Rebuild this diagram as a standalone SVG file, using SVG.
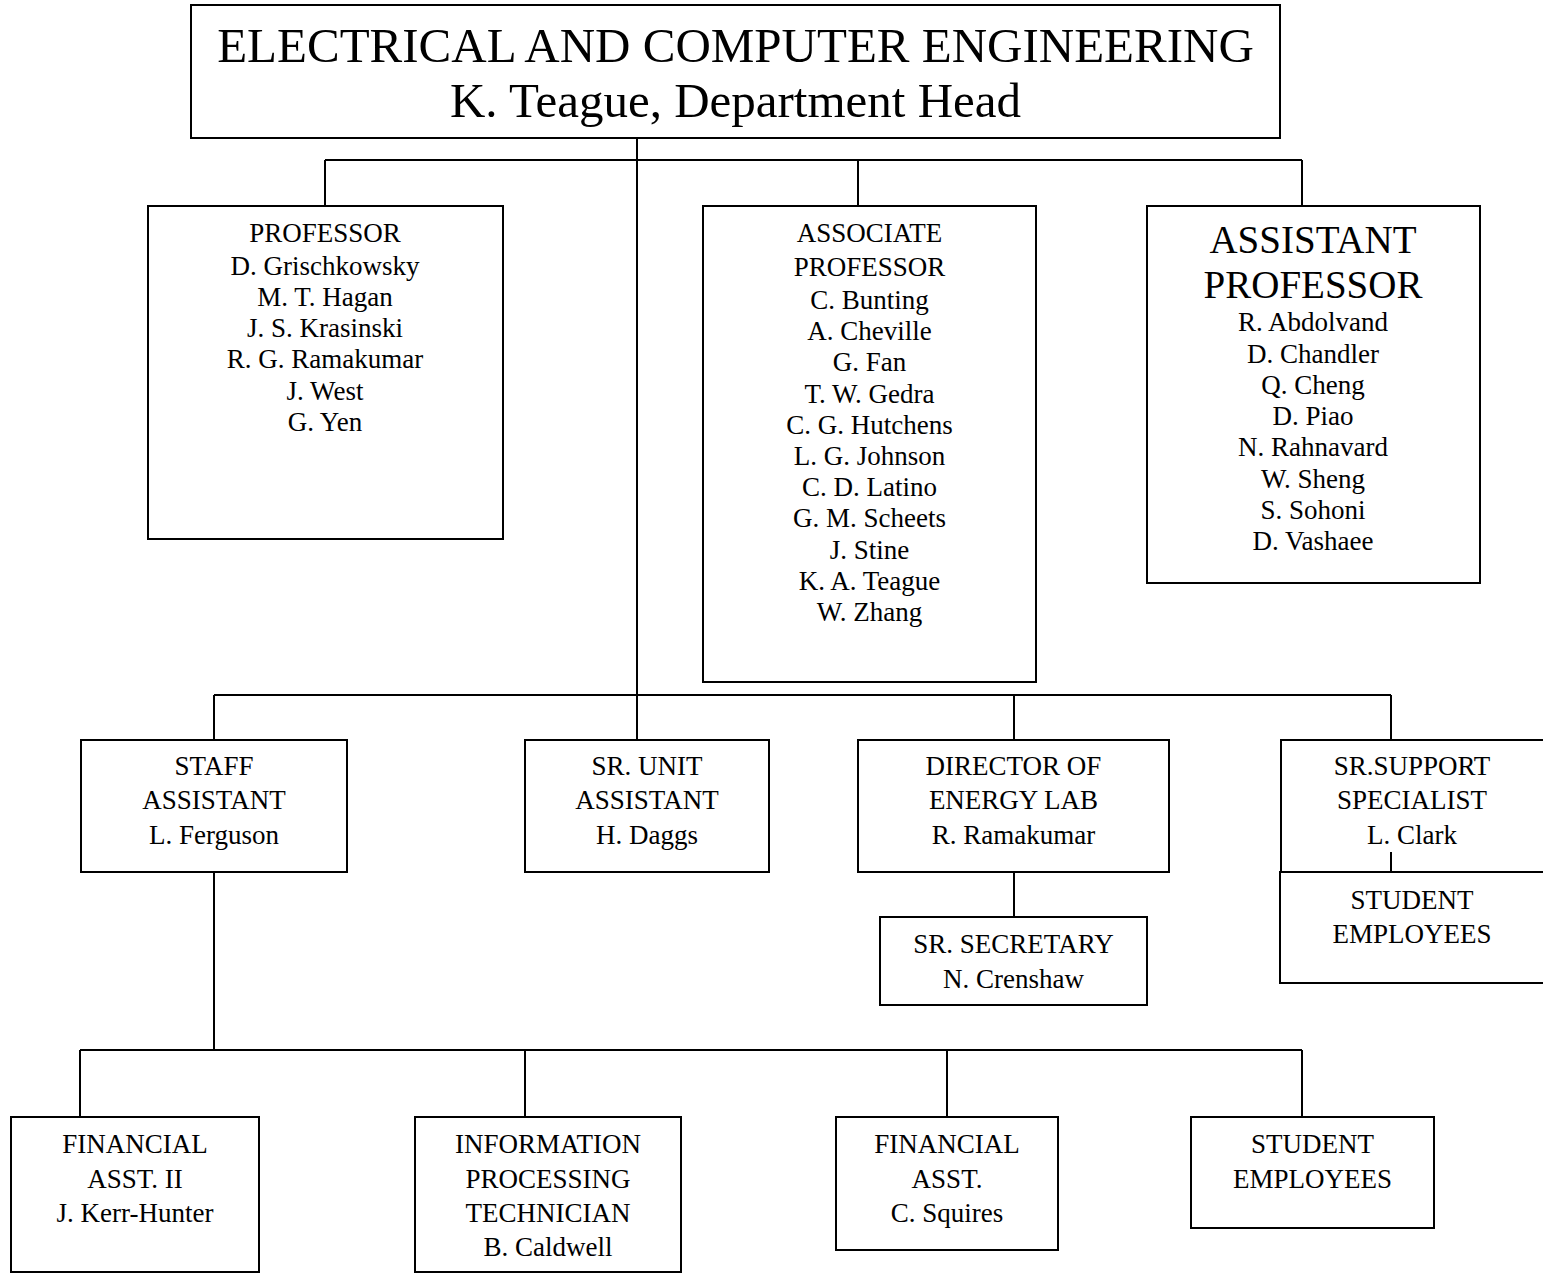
<svg xmlns="http://www.w3.org/2000/svg" width="1543" height="1273" viewBox="0 0 1543 1273">
<style>
rect{fill:#fff;stroke:#000;stroke-width:2}
.c line,.c path{stroke:#000;stroke-width:2;fill:none}
text{font-family:"Liberation Serif","Times New Roman",serif;fill:#000;text-anchor:middle;font-size:27px}
.big{font-size:49px}
.mid{font-size:39px}
</style>
<rect width="1543" height="1273" style="fill:#fff;stroke:none"/>
<g class="c" id="connectors">
<line x1="637" y1="138" x2="637" y2="740"/>
<line x1="325" y1="160" x2="1302" y2="160"/>
<line x1="325" y1="160" x2="325" y2="206"/>
<line x1="858" y1="160" x2="858" y2="206"/>
<line x1="1302" y1="160" x2="1302" y2="206"/>
<line x1="214" y1="695" x2="1391" y2="695"/>
<line x1="214" y1="695" x2="214" y2="740"/>
<line x1="1014" y1="695" x2="1014" y2="740"/>
<line x1="1391" y1="695" x2="1391" y2="740"/>
<line x1="1014" y1="872" x2="1014" y2="917"/>
<line x1="1391" y1="852" x2="1391" y2="872"/>
<line x1="214" y1="872" x2="214" y2="1050"/>
<line x1="80" y1="1050" x2="1302" y2="1050"/>
<line x1="80" y1="1050" x2="80" y2="1117"/>
<line x1="525" y1="1050" x2="525" y2="1117"/>
<line x1="947" y1="1050" x2="947" y2="1117"/>
<line x1="1302" y1="1050" x2="1302" y2="1117"/>
</g>
<g id="head">
<rect x="191" y="5" width="1089" height="133"/>
<text class="big" x="735.5" y="62">ELECTRICAL AND COMPUTER ENGINEERING</text>
<text class="big" x="735.5" y="117">K. Teague, Department Head</text>
</g>
<g id="professor">
<rect x="148" y="206" width="355" height="333"/>
<text x="325" y="242">PROFESSOR</text>
<text x="325" y="275">D. Grischkowsky</text>
<text x="325" y="306">M. T. Hagan</text>
<text x="325" y="337">J. S. Krasinski</text>
<text x="325" y="368">R. G. Ramakumar</text>
<text x="325" y="400">J. West</text>
<text x="325" y="431">G. Yen</text>
</g>
<g id="associate">
<rect x="703" y="206" width="333" height="476"/>
<text x="869.5" y="242">ASSOCIATE</text>
<text x="869.5" y="276">PROFESSOR</text>
<text x="869.5" y="309">C. Bunting</text>
<text x="869.5" y="340">A. Cheville</text>
<text x="869.5" y="371">G. Fan</text>
<text x="869.5" y="403">T. W. Gedra</text>
<text x="869.5" y="434">C. G. Hutchens</text>
<text x="869.5" y="465">L. G. Johnson</text>
<text x="869.5" y="496">C. D. Latino</text>
<text x="869.5" y="527">G. M. Scheets</text>
<text x="869.5" y="559">J. Stine</text>
<text x="869.5" y="590">K. A. Teague</text>
<text x="869.5" y="621">W. Zhang</text>
</g>
<g id="assistant">
<rect x="1147" y="206" width="333" height="377"/>
<text class="mid" x="1313" y="253">ASSISTANT</text>
<text class="mid" x="1313" y="298">PROFESSOR</text>
<text x="1313" y="331">R. Abdolvand</text>
<text x="1313" y="363">D. Chandler</text>
<text x="1313" y="394">Q. Cheng</text>
<text x="1313" y="425">D. Piao</text>
<text x="1313" y="456">N. Rahnavard</text>
<text x="1313" y="488">W. Sheng</text>
<text x="1313" y="519">S. Sohoni</text>
<text x="1313" y="550">D. Vashaee</text>
</g>
<g id="staff">
<rect x="81" y="740" width="266" height="132"/>
<text x="214" y="775">STAFF</text>
<text x="214" y="809">ASSISTANT</text>
<text x="214" y="844">L. Ferguson</text>
</g>
<g id="srunit">
<rect x="525" y="740" width="244" height="132"/>
<text x="647" y="775">SR. UNIT</text>
<text x="647" y="809">ASSISTANT</text>
<text x="647" y="844">H. Daggs</text>
</g>
<g id="director">
<rect x="858" y="740" width="311" height="132"/>
<text x="1013.5" y="775">DIRECTOR OF</text>
<text x="1013.5" y="809">ENERGY LAB</text>
<text x="1013.5" y="844">R. Ramakumar</text>
</g>
<g id="srsupport">
<rect x="1281" y="740" width="280" height="132" style="fill:none"/>
<text x="1412" y="775">SR.SUPPORT</text>
<text x="1412" y="809">SPECIALIST</text>
<text x="1412" y="844">L. Clark</text>
</g>
<g id="students1">
<rect x="1280" y="872" width="280" height="111" style="fill:none"/>
<text x="1412" y="909">STUDENT</text>
<text x="1412" y="943">EMPLOYEES</text>
</g>
<g id="secretary">
<rect x="880" y="917" width="267" height="88"/>
<text x="1013.5" y="953">SR. SECRETARY</text>
<text x="1013.5" y="988">N. Crenshaw</text>
</g>
<g id="finasst2">
<rect x="11" y="1117" width="248" height="155"/>
<text x="135" y="1153">FINANCIAL</text>
<text x="135" y="1188">ASST. II</text>
<text x="135" y="1222">J. Kerr-Hunter</text>
</g>
<g id="infoproc">
<rect x="415" y="1117" width="266" height="155"/>
<text x="548" y="1153">INFORMATION</text>
<text x="548" y="1188">PROCESSING</text>
<text x="548" y="1222">TECHNICIAN</text>
<text x="548" y="1256">B. Caldwell</text>
</g>
<g id="finasst">
<rect x="836" y="1117" width="222" height="133"/>
<text x="947" y="1153">FINANCIAL</text>
<text x="947" y="1188">ASST.</text>
<text x="947" y="1222">C. Squires</text>
</g>
<g id="students2">
<rect x="1191" y="1117" width="243" height="111"/>
<text x="1312.5" y="1153">STUDENT</text>
<text x="1312.5" y="1188">EMPLOYEES</text>
</g>
</svg>
